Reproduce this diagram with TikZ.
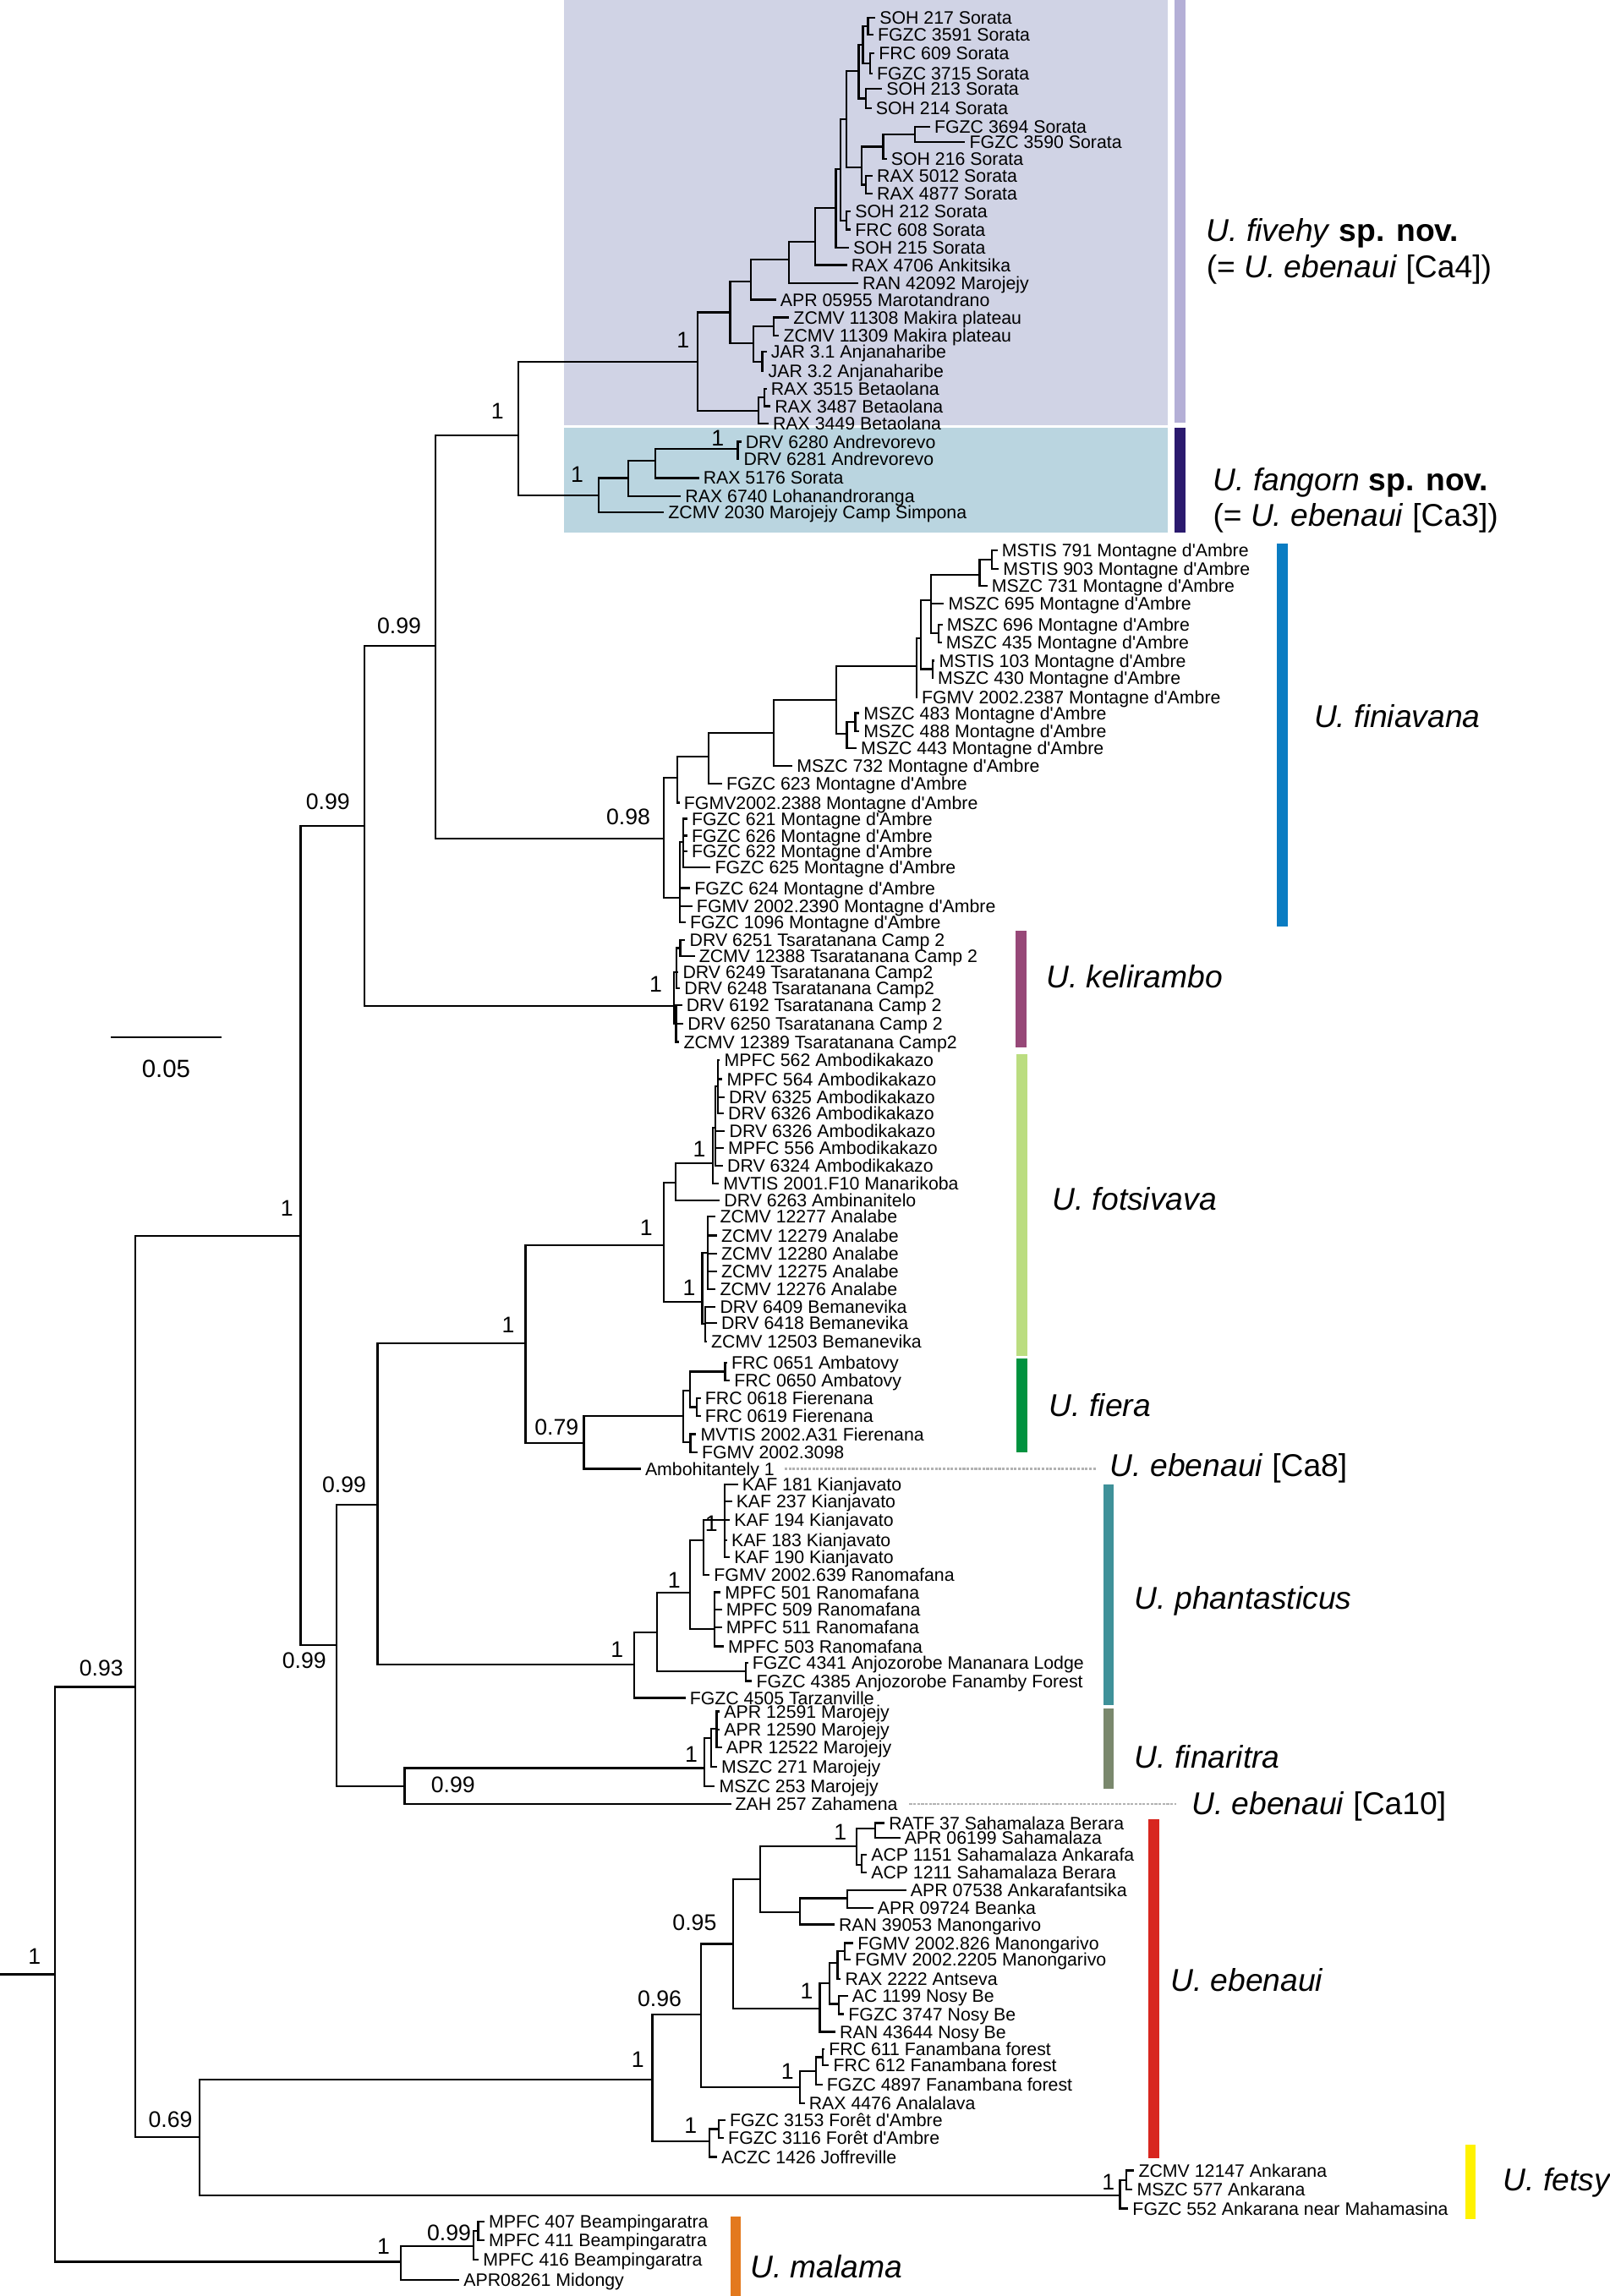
\documentclass[tikz,border=0pt]{standalone}
\usepackage{fontspec}
\setmainfont{Liberation Sans}[Ligatures=TeXOff]
\usepackage{xcolor}
\definecolor{fivbg}{HTML}{D0D3E5}
\definecolor{fanbg}{HTML}{BAD5E0}
\definecolor{cfiv}{HTML}{B4AFD6}
\definecolor{cfan}{HTML}{2B1A6E}
\definecolor{cfin}{HTML}{0A7CC2}
\definecolor{ckel}{HTML}{974878}
\definecolor{cfot}{HTML}{BBDD80}
\definecolor{cfie}{HTML}{00923F}
\definecolor{cpha}{HTML}{3F9199}
\definecolor{cfnr}{HTML}{7A886D}
\definecolor{cebe}{HTML}{D8261F}
\definecolor{cfet}{HTML}{FFF200}
\definecolor{cmal}{HTML}{E3791E}

\begin{document}
\begin{tikzpicture}[x=1pt, y=-1pt,
  br/.style={line width=1.3pt},
  leaf/.style={anchor=west, inner xsep=3pt, inner ysep=0pt, outer sep=0pt, font=\fontsize{12.3}{13}\selectfont, text height=8.8pt, text depth=0pt},
  supp/.style={inner sep=0pt, font=\fontsize{15.4}{16}\selectfont},
  spec/.style={anchor=west, inner sep=0pt, font=\fontsize{21.5}{24}\selectfont, text height=15.4pt, text depth=0pt},
  guide/.style={gray!60, line width=1.3pt, dash pattern=on 1.8pt off 0.9pt}
]
\useasboundingbox (0,0) rectangle (1099,1568);

% clade boxes and bars
\fill[fivbg] (385.1,0) rectangle (797.4,290.5);
\fill[fanbg] (385.1,292.1) rectangle (797.4,363.5);
\fill[cfiv] (801.9,0) rectangle (809.2,288.8);
\fill[cfan] (801.9,292.1) rectangle (809.2,363.5);
\fill[cfin] (872,371) rectangle (879.4,633);
\fill[ckel] (693.2,635.6) rectangle (701,715.2);
\fill[cfot] (693.8,720) rectangle (701.5,926);
\fill[cfie] (693.8,928) rectangle (701.5,991.7);
\fill[cpha] (753.4,1013.5) rectangle (760.6,1164.7);
\fill[cfnr] (753.4,1166.7) rectangle (760.6,1221.6);
\fill[cebe] (784,1242.2) rectangle (791.6,1474.1);
\fill[cfet] (1000.2,1464.6) rectangle (1007.6,1515.7);
\fill[cmal] (498.9,1514) rectangle (505.5,1568);

% internal nodes
\foreach \n/\x/\y in {base/0/1348.3,root/37.7/1348.3,n92/92.2/1152,n136/136.1/1459.4,n205/205.3/844.1,
  n249/248.9/564.2,n298/297.5/440.9,n354/354.1/297.4,n230/229.8/1123.3,n258/257.8/1027.5,
  n359/358.8/917.4,n276/276.3/1220,
  fv/476.1/247.3,fva/498.5/213.3,fvb/517.8/280.5,bb1/521.7/271.5,fvd/514.5/234.5,mk/528.1/222.7,
  ajh/520.5/247,fvc/512.7/192.1,fve/538.5/177.2,fvf/556.5/165,fvg/570.7/142.1,fvh/574/115.5,
  sf/578/150.8,fvi/578/81.3,tp/586.2/48.3,tp1/589.2/30.6,tp1a/592.6/17.9,tp1b/593.9/43.4,
  tp2/591.3/67.2,gg/588.2/114.3,gg1/603/100.2,gg1a/624.8/91.9,gg2/591.3/126.1,
  fg/408.8/338.1,fga/428.9/326.4,fgb/447.5/314.7,fgc/503.7/306.4,
  fi/453.3/572.5,fia/462.5/531.2,fib/483.6/516.7,fic/528.3/500.4,fid/571/478.2,fie/578.2/501.3,
  fif/584/493,fig/625.7/455,fih/628.7/435.8,fii/635.6/410,fim/668.8/392.4,fin/677.2/382.2,
  fil/640.6/432.6,fij/636.6/457,fiz/464/613.1,fiz1/466.5/575,
  kl/460/686.9,kla/462/664,klc/464.5/647.5,klb/461.5/699,
  ft/453.4/850.3,fta/461.4/807.7,akz/486.6/794.3,akz1/488.5/770,akz2/490/742,
  ftb/479.4/889.2,alb/483/855.5,bmv/481.5/904,
  fr/398.6/985.4,fra/466.4/967.2,frb/471.1/949.5,abt/495/936.7,frn/475.5/961,frx/471.4/985,
  ph/433.1/1136.7,pha/448.4/1115,phb/471.1/1087.8,phc/480.2/1051.7,kjv/494.8/1038.2,
  rnm/487.7/1112.5,ajz/509.2/1141.4,
  fn/481/1207.4,fna/485.7/1186.8,fnb/489.3/1180.6,
  eb/445.4/1420.1,eba/478.6/1375.6,ebb/500.7/1327.6,ebc/519.2/1283.4,sah/584.7/1260.7,
  saha/597.6/1248.9,sahb/588.4/1273.7,ebd/546.1/1306,ebe/578.5/1296.3,nb/559.7/1371.7,
  nba/566.3/1354.5,nbb/571.8/1340.5,nbd/576.6/1332.5,nbc/572.9/1368.5,fan/546.1/1425.2,
  fana/557.1/1414.4,fanb/561.9/1404.9,jof/484.5/1462.2,jofa/490.8/1454,
  fe/764.7/1499.1,fea/768.8/1488.8,
  ml/273.5/1544.6,mla/323.2/1534,mlb/326.5/1523.5}
  \coordinate (\n) at (\x,\y);

% terminals
\foreach \n/\x/\y/\t in {
  soh217/597.6/12.3/SOH 217 Sorata,fgzc3591/596.3/23.6/FGZC 3591 Sorata,frc609/597.1/36.5/FRC 609 Sorata,
  fgzc3715/595.8/50.2/FGZC 3715 Sorata,soh213/602.3/60.8/SOH 213 Sorata,soh214/595/73.8/SOH 214 Sorata,
  fgzc3694/635/86.5/FGZC 3694 Sorata,fgzc3590/659/97.1/FGZC 3590 Sorata,soh216/605.4/108.4/SOH 216 Sorata,
  rax5012/595.8/120.2/RAX 5012 Sorata,rax4877/595.8/132/RAX 4877 Sorata,soh212/580.9/144.5/SOH 212 Sorata,
  frc608/580.9/156.7/FRC 608 Sorata,soh215/579.6/169/SOH 215 Sorata,rax4706/578.3/181/RAX 4706 Ankitsika,
  ran42092/586/193.3/RAN 42092 Marojejy,apr05955/529.8/204.6/APR 05955 Marotandrano,
  zcmv11308/538.8/216.8/ZCMV 11308 Makira plateau,zcmv11309/531.9/229.1/ZCMV 11309 Makira plateau,
  jar31/523.4/240/JAR 3.1 Anjanaharibe,jar32/521.6/253.4/JAR 3.2 Anjanaharibe,
  rax3515/523.4/265.6/RAX 3515 Betaolana,rax3487/526/277.4/RAX 3487 Betaolana,rax3449/524.7/289.4/RAX 3449 Betaolana,
  drv6280/506.1/301.7/DRV 6280 Andrevorevo,drv6281/504.8/313.5/DRV 6281 Andrevorevo,
  rax5176/477.2/326.4/RAX 5176 Sorata,rax6740/464.9/338.7/RAX 6740 Lohanandroranga,
  zcmv2030/453.3/350/ZCMV 2030 Marojejy Camp Simpona,
  mstis791/681/376/MSTIS 791 Montagne d'Ambre,mstis903/681.9/388.5/MSTIS 903 Montagne d'Ambre,
  mszc731/674.1/400.1/MSZC 731 Montagne d'Ambre,mszc695/644.5/412.1/MSZC 695 Montagne d'Ambre,
  mszc696/643.5/426.5/MSZC 696 Montagne d'Ambre,mszc435/642.9/438.7/MSZC 435 Montagne d'Ambre,
  mstis103/638.2/451.2/MSTIS 103 Montagne d'Ambre,mszc430/637.3/462.8/MSZC 430 Montagne d'Ambre,
  fgmv2387/626.3/476.3/FGMV 2002.2387 Montagne d'Ambre,mszc483/586.7/486.9/MSZC 483 Montagne d'Ambre,
  mszc488/586.7/499.4/MSZC 488 Montagne d'Ambre,mszc443/584.8/511/MSZC 443 Montagne d'Ambre,
  mszc732/541.1/523.1/MSZC 732 Montagne d'Ambre,fgzc623/493/535.1/FGZC 623 Montagne d'Ambre,
  fgmv2388/464/548.2/FGMV2002.2388 Montagne d'Ambre,fgzc621/469.3/559.2/FGZC 621 Montagne d'Ambre,
  fgzc626/469.3/570.7/FGZC 626 Montagne d'Ambre,fgzc622/469.3/581.3/FGZC 622 Montagne d'Ambre,
  fgzc625/485.2/592.5/FGZC 625 Montagne d'Ambre,fgzc624/471.2/606.4/FGZC 624 Montagne d'Ambre,
  fgmv2390/472.7/618.9/FGMV 2002.2390 Montagne d'Ambre,fgzc1096/468.1/629.9/FGZC 1096 Montagne d'Ambre,
  drv6251/467.9/642/DRV 6251 Tsaratanana Camp 2,zcmv12388/474.3/653.1/ZCMV 12388 Tsaratanana Camp 2,
  drv6249/463.2/664/DRV 6249 Tsaratanana Camp2,drv6248/464.3/675/DRV 6248 Tsaratanana Camp2,
  drv6192/465.7/686.5/DRV 6192 Tsaratanana Camp 2,drv6250/466.5/699.1/DRV 6250 Tsaratanana Camp 2,
  zcmv12389/463.8/711.6/ZCMV 12389 Tsaratanana Camp2,
  mpfc562/491.5/723.8/MPFC 562 Ambodikakazo,mpfc564/493.3/736.9/MPFC 564 Ambodikakazo,
  drv6325/494.7/749.3/DRV 6325 Ambodikakazo,drv6326a/494.2/760.4/DRV 6326 Ambodikakazo,
  drv6326b/495/772.3/DRV 6326 Ambodikakazo,mpfc556/494.2/784.2/MPFC 556 Ambodikakazo,
  drv6324/493.6/796.2/DRV 6324 Ambodikakazo,mvtis2001/490.8/808.1/MVTIS 2001.F10 Manarikoba,
  drv6263/491.4/819.8/DRV 6263 Ambinanitelo,zcmv12277/488.6/830.7/ZCMV 12277 Analabe,
  zcmv12279/489.5/843.8/ZCMV 12279 Analabe,zcmv12280/489.5/856.2/ZCMV 12280 Analabe,
  zcmv12275/489.5/868.1/ZCMV 12275 Analabe,zcmv12276/488.6/880.2/ZCMV 12276 Analabe,
  drv6409/488.6/892.6/DRV 6409 Bemanevika,drv6418/489.5/903.5/DRV 6418 Bemanevika,
  zcmv12503/482.6/916/ZCMV 12503 Bemanevika,
  frc0651/496.4/930.6/FRC 0651 Ambatovy,frc0650/498.3/942.9/FRC 0650 Ambatovy,
  frc0618/478.4/954.7/FRC 0618 Fierenana,frc0619/478.4/967.1/FRC 0619 Fierenana,
  mvtis2002/475.4/979.4/MVTIS 2002.A31 Fierenana,fgmv3098/476.2/991.8/FGMV 2002.3098,
  ahtly/437.5/1003.1/Ambohitantely 1,
  kaf181/503.8/1013.9/KAF 181 Kianjavato,kaf237/499.7/1025.4/KAF 237 Kianjavato,
  kaf194/498.3/1037.8/KAF 194 Kianjavato,kaf183/496.4/1051.7/KAF 183 Kianjavato,
  kaf190/498.3/1063.4/KAF 190 Kianjavato,fgmv639/484.5/1075.4/FGMV 2002.639 Ranomafana,
  mpfc501/492/1087.3/MPFC 501 Ranomafana,mpfc509/492.8/1099.1/MPFC 509 Ranomafana,
  mpfc511/492.8/1111.5/MPFC 511 Ranomafana,mpfc503/494.2/1124.3/MPFC 503 Ranomafana,
  fgzc4341/510.7/1135.6/FGZC 4341 Anjozorobe Mananara Lodge,fgzc4385/513.5/1148/FGZC 4385 Anjozorobe Fanamby Forest,
  fgzc4505/468/1159.5/FGZC 4505 Tarzanville,
  apr12591/491.4/1168.8/APR 12591 Marojejy,apr12590/491.4/1181.2/APR 12590 Marojejy,
  apr12522/492.8/1193.4/APR 12522 Marojejy,mszc271/489.5/1206.4/MSZC 271 Marojejy,
  mszc253/488.1/1219.8/MSZC 253 Marojejy,zah257/499.1/1232/ZAH 257 Zahamena,
  ratf37/603.9/1245/RATF 37 Sahamalaza Berara,apr06199/614.6/1254.9/APR 06199 Sahamalaza,
  acp1151/591.8/1266.6/ACP 1151 Sahamalaza Ankarafa,acp1211/591.8/1278.6/ACP 1211 Sahamalaza Berara,
  apr07538/618.7/1290.9/APR 07538 Ankarafantsika,apr09724/596.2/1303.2/APR 09724 Beanka,
  ran39053/569.7/1314.2/RAN 39053 Manongarivo,fgmv826/582.6/1326.9/FGMV 2002.826 Manongarivo,
  fgmv2205/580.7/1338.3/FGMV 2002.2205 Manongarivo,rax2222/574.1/1351.7/RAX 2222 Antseva,
  ac1199/578.9/1363.1/AC 1199 Nosy Be,fgzc3747/576.3/1375.4/FGZC 3747 Nosy Be,
  ran43644/570.4/1387.5/RAN 43644 Nosy Be,frc611/563/1399.3/FRC 611 Fanambana forest,
  frc612/566/1410.5/FRC 612 Fanambana forest,fgzc4897/561.6/1423.5/FGZC 4897 Fanambana forest,
  rax4476/549.4/1436.4/RAX 4476 Analalava,fgzc3153/495.3/1447.8/FGZC 3153 Forêt d'Ambre,
  fgzc3116/494.2/1460.1/FGZC 3116 Forêt d'Ambre,aczc1426/489.7/1473/ACZC 1426 Joffreville,
  zcmv12147/774.4/1482.3/ZCMV 12147 Ankarana,mszc577/773.2/1495.2/MSZC 577 Ankarana,
  fgzc552/770.3/1508.2/FGZC 552 Ankarana near Mahamasina,
  mpfc407/330.8/1517/MPFC 407 Beampingaratra,mpfc411/330.8/1530/MPFC 411 Beampingaratra,
  mpfc416/326.8/1543/MPFC 416 Beampingaratra,apr08261/313.6/1557/APR08261 Midongy}
  \node[leaf] (\n) at (\x,\y) {\t};

% branches
\draw[br] (base) -- (root);
\foreach \a/\b in {root/n92,root/ml,n92/n205,n92/n136,n136/eb,n136/fe,n205/n249,n205/n230,
  n249/n298,n249/kl,n298/n354,n298/fi,n354/fv,n354/fg,n230/n258,n230/n276,n258/n359,n258/ph,
  n359/ft,n359/fr,n276/fn,n276/zah257,
  fv/fva,fv/fvb,fvb/bb1,fvb/rax3449,bb1/rax3515,bb1/rax3487,fva/fvc,fva/fvd,
  fvd/mk,fvd/ajh,mk/zcmv11308,mk/zcmv11309,ajh/jar31,ajh/jar32,fvc/fve,fvc/apr05955,
  fve/fvf,fve/ran42092,fvf/fvg,fvf/rax4706,fvg/fvh,fvg/soh215,fvh/fvi,fvh/sf,sf/soh212,sf/frc608,
  fvi/tp,fvi/gg,tp/tp1,tp/tp2,tp1/tp1a,tp1/tp1b,tp1a/soh217,tp1a/fgzc3591,tp1b/frc609,tp1b/fgzc3715,
  tp2/soh213,tp2/soh214,gg/gg1,gg/gg2,gg1/gg1a,gg1/soh216,gg1a/fgzc3694,gg1a/fgzc3590,
  gg2/rax5012,gg2/rax4877,
  fg/fga,fg/zcmv2030,fga/fgb,fga/rax6740,fgb/fgc,fgb/rax5176,fgc/drv6280,fgc/drv6281,
  fi/fia,fi/fiz,fia/fib,fia/fgmv2388,fib/fic,fib/fgzc623,fic/fid,fic/mszc732,fid/fig,fid/fie,
  fie/fif,fie/mszc443,fif/mszc483,fif/mszc488,fig/fih,fig/fgmv2387,fih/fii,fih/fij,
  fii/fim,fii/mszc695,fii/fil,fim/fin,fim/mszc731,fin/mstis791,fin/mstis903,
  fil/mszc696,fil/mszc435,fij/mstis103,fij/mszc430,
  fiz/fiz1,fiz/fgzc624,fiz/fgmv2390,fiz/fgzc1096,fiz1/fgzc621,fiz1/fgzc626,fiz1/fgzc622,fiz1/fgzc625,
  kl/kla,kl/klb,kla/klc,kla/drv6249,kla/drv6248,klc/drv6251,klc/zcmv12388,
  klb/drv6192,klb/drv6250,klb/zcmv12389,
  ft/fta,ft/ftb,fta/akz,fta/drv6263,akz/akz1,akz/mvtis2001,
  akz1/akz2,akz1/drv6326b,akz1/mpfc556,akz1/drv6324,
  akz2/mpfc562,akz2/mpfc564,akz2/drv6325,akz2/drv6326a,
  ftb/alb,ftb/bmv,alb/zcmv12277,alb/zcmv12279,alb/zcmv12280,alb/zcmv12275,alb/zcmv12276,
  bmv/drv6409,bmv/drv6418,bmv/zcmv12503,
  fr/fra,fr/ahtly,fra/frb,fra/frx,frb/abt,frb/frn,abt/frc0651,abt/frc0650,
  frn/frc0618,frn/frc0619,frx/mvtis2002,frx/fgmv3098,
  ph/pha,ph/fgzc4505,pha/phb,pha/ajz,phb/phc,phb/rnm,phc/kjv,phc/fgmv639,
  kjv/kaf181,kjv/kaf237,kjv/kaf194,kjv/kaf183,kjv/kaf190,
  rnm/mpfc501,rnm/mpfc509,rnm/mpfc511,rnm/mpfc503,ajz/fgzc4341,ajz/fgzc4385,
  fn/fna,fn/mszc253,fna/fnb,fna/mszc271,fnb/apr12591,fnb/apr12590,fnb/apr12522,
  eb/eba,eb/jof,eba/ebb,eba/fan,ebb/ebc,ebb/nb,ebc/sah,ebc/ebd,
  sah/saha,sah/sahb,saha/ratf37,saha/apr06199,sahb/acp1151,sahb/acp1211,
  ebd/ebe,ebd/ran39053,ebe/apr07538,ebe/apr09724,nb/nba,nb/ran43644,nba/nbb,nba/nbc,
  nbb/nbd,nbb/rax2222,nbd/fgmv826,nbd/fgmv2205,nbc/ac1199,nbc/fgzc3747,
  fan/fana,fan/rax4476,fana/fanb,fana/fgzc4897,fanb/frc611,fanb/frc612,
  jof/jofa,jof/aczc1426,jofa/fgzc3153,jofa/fgzc3116,
  fe/fea,fe/fgzc552,fea/zcmv12147,fea/mszc577,
  ml/mla,ml/apr08261,mla/mlb,mla/mpfc416,mlb/mpfc407,mlb/mpfc411}
  \draw[br] (\a) |- (\b);

% support values
\foreach \x/\y/\v [count=\i] in {23.6/1335.8/1,69.2/1139.5/0.93,116.4/1447.4/0.69,195.9/825/1,
  223.9/547.6/0.99,272.5/427.6/0.99,339.7/280.8/1,466.3/232.2/1,394/324/1,490/299/1,
  429/558/0.98,447.8/672/1,347/905/1,441.3/838.4/1,477.4/784.8/1,470.5/879.6/1,
  380/974.8/0.79,235/1014/0.99,207.7/1133.8/0.99,421.3/1126.6/1,460.3/1079.1/1,485.7/1040.3/1,
  309.3/1219/0.99,472/1198.1/1,435.4/1406.7/1,450.3/1364.8/0.96,474.2/1313.1/0.95,
  573.7/1251/1,550.8/1359.9/1,537.6/1414.8/1,471.6/1451.5/1,756.8/1490/1,
  261.9/1534/1,306.6/1524.6/0.99}
  \node[supp] (s\i) at (\x,\y) {\v};

% scale bar
\coordinate (sbl) at (75.7,708.4);
\coordinate (sbr) at (151.1,708.4);
\draw[br] (sbl) -- (sbr);
\node[font=\fontsize{17}{18}\selectfont, inner sep=0pt] (sbt) at (113.4,730) {0.05};

% species labels
\node[spec] (fivlab) at (823.5,157) {\textit{U. fivehy} \textbf{sp. nov.}};
\node[spec] (fivsyn) at (823.5,181.7) {(= \textit{U. ebenaui} [Ca4])};
\node[spec] (fanlab) at (828,327.4) {\textit{U. fangorn} \textbf{sp. nov.}};
\node[spec] (fansyn) at (828,351.8) {(= \textit{U. ebenaui} [Ca3])};
\node[spec] (finlab) at (897,489) {\textit{U. finiavana}};
\node[spec] (kellab) at (714,666.7) {\textit{U. kelirambo}};
\node[spec] (fotlab) at (718.2,818.6) {\textit{U. fotsivava}};
\node[spec] (fielab) at (716.2,959.8) {\textit{U. fiera}};
\node[spec] (ca8) at (757.8,1000.8) {\textit{U. ebenaui} [Ca8]};
\node[spec] (phalab) at (774.5,1091.1) {\textit{U. phantasticus}};
\node[spec] (fnrlab) at (774.5,1199.7) {\textit{U. finaritra}};
\node[spec] (ca10) at (813.3,1231.5) {\textit{U. ebenaui} [Ca10]};
\node[spec] (ebelab) at (798.9,1352.3) {\textit{U. ebenaui}};
\node[spec] (fetlab) at (1026.1,1488.4) {\textit{U. fetsy}};
\node[spec] (mallab) at (512,1548) {\textit{U. malama}};

\draw[guide, shorten <=4pt, shorten >=9pt] (ahtly.east) -- (ahtly.east -| ca8.west);
\draw[guide, shorten <=5pt, shorten >=10.5pt] (zah257.east) -- (zah257.east -| ca10.west);
\end{tikzpicture}
\end{document}
